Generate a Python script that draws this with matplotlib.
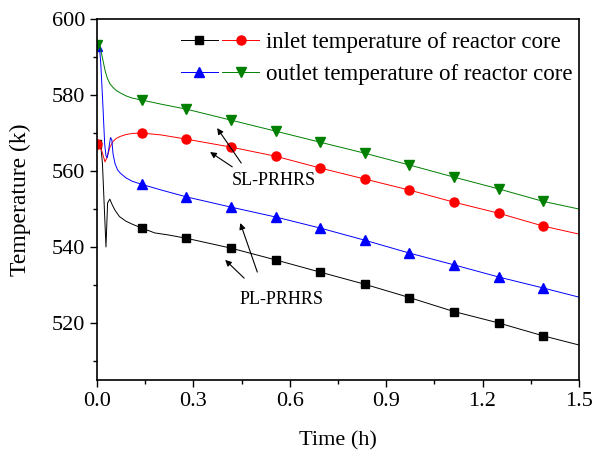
import matplotlib
matplotlib.use('Agg')
import matplotlib.pyplot as plt
from matplotlib.legend_handler import HandlerTuple
from matplotlib.ticker import MultipleLocator

plt.rcParams['font.family'] = ['Liberation Serif', 'DejaVu Serif']

# marker positions (h)
mark_t = [0, 0.139, 0.278, 0.417, 0.556, 0.694, 0.833, 0.972, 1.111, 1.25, 1.389]
tail = [0.417, 0.556, 0.694, 0.833, 0.972, 1.111, 1.25, 1.389, 1.5]

# PL-PRHRS inlet (black)
t_pl_in = [0, 0.012, 0.017, 0.022, 0.028, 0.033, 0.04, 0.048, 0.056, 0.07, 0.09, 0.11,
           0.139, 0.18, 0.22, 0.278] + tail
T_pl_in = [567, 566.5, 562, 552, 540, 551.6, 552.6, 551, 549.7, 548, 546.8, 546,
           545, 543.7, 543.2, 542.3, 539.7, 536.6, 533.4, 530.2, 526.7, 523, 520, 516.6, 514.2]

# SL-PRHRS inlet (red)
t_sl_in = [0, 0.008, 0.016, 0.025, 0.032, 0.04, 0.05, 0.06, 0.072, 0.09, 0.11,
           0.139, 0.2, 0.278] + tail
T_sl_in = [567.2, 567, 565, 562.4, 563.8, 566.2, 567.8, 568.6, 569.1, 569.6, 569.9,
           570, 569.5, 568.4, 566.3, 563.9, 560.8, 557.9, 555, 551.8, 548.9, 545.5, 543.4]

# PL-PRHRS outlet (blue)
t_pl_out = [0, 0.008, 0.012, 0.018, 0.024, 0.028, 0.032, 0.037, 0.042, 0.046, 0.05, 0.056,
            0.064, 0.072, 0.09, 0.11, 0.139, 0.2, 0.278] + tail
T_pl_out = [593, 592.5, 588, 578, 567, 564, 563.5, 566, 568.8, 568.3, 564.5, 562,
            560.3, 559.5, 558.2, 557.3, 556.5, 555, 553.2, 550.5, 547.9, 545, 541.8,
            538.4, 535.3, 532.1, 529.2, 526.8]

# SL-PRHRS outlet (green)
t_sl_out = [0, 0.01, 0.014, 0.019, 0.025, 0.032, 0.04, 0.05, 0.06, 0.072, 0.09, 0.11,
            0.139, 0.2, 0.278] + tail
T_sl_out = [593.2, 592.8, 591, 589, 586.5, 584.5, 583, 582, 581.2, 580.6, 579.8, 579.2,
            578.7, 577.6, 576.3, 573.4, 570.5, 567.6, 564.7, 561.6, 558.4, 555.3, 552.0, 550.0]

fig = plt.figure(figsize=(5.95, 4.55), dpi=100)
ax = fig.add_axes([0.163, 0.165, 0.81, 0.793])


def curve(t, T, color, marker, ms):
    idx = [t.index(m) for m in mark_t]
    line, = ax.plot(t, T, color=color, lw=0.7, marker=marker, ms=ms,
                    markevery=idx, mfc=color, mec=color)
    return line


l1 = curve(t_pl_in, T_pl_in, 'black', 's', 5.5)
l2 = curve(t_sl_in, T_sl_in, 'red', 'o', 6.5)
l3 = curve(t_pl_out, T_pl_out, 'blue', '^', 6.5)
l4 = curve(t_sl_out, T_sl_out, 'green', 'v', 6.5)

ax.set_xlim(0, 1.5)
ax.set_ylim(505, 600)
ax.xaxis.set_major_locator(MultipleLocator(0.3))
ax.xaxis.set_minor_locator(MultipleLocator(0.15))
ax.yaxis.set_major_locator(MultipleLocator(20))
ax.yaxis.set_minor_locator(MultipleLocator(10))
ax.xaxis.set_major_formatter(plt.FuncFormatter(lambda v, p: '%.1f' % v))
ax.tick_params(which='major', direction='out', length=5, width=1, labelsize=16)
ax.tick_params(which='minor', direction='out', length=3, width=1)
for s in ax.spines.values():
    s.set_linewidth(1.2)

ax.set_xlabel('Time (h)', fontsize=16, labelpad=15)
ax.set_ylabel('Temperature (k)', fontsize=17, labelpad=15)

leg = ax.legend([(l1, l2), (l3, l4)],
                ['inlet temperature of reactor core', 'outlet temperature of reactor core'],
                handler_map={tuple: HandlerTuple(ndivide=None, pad=0.2)},
                loc='upper right', bbox_to_anchor=(1.01, 0.995), frameon=False,
                fontsize=16.5, handlelength=3.4, handletextpad=0.3, labelspacing=0.45,
                borderaxespad=0.1)

arrow = dict(arrowstyle='-|>', color='k', lw=0.8, mutation_scale=9, shrinkA=0, shrinkB=0)
ax.annotate('', xy=(0.374, 571.3), xytext=(0.449, 562.1), arrowprops=arrow)
ax.annotate('', xy=(0.352, 565.0), xytext=(0.421, 561.1), arrowprops=arrow)
ax.annotate('', xy=(0.446, 546.3), xytext=(0.499, 533.4), arrowprops=arrow)
ax.annotate('', xy=(0.399, 536.6), xytext=(0.458, 531.8), arrowprops=arrow)
ax.text(0.549, 557.4, 'SL-PRHRS', ha='center', va='center', fontsize=13)
ax.text(0.574, 526.1, 'PL-PRHRS', ha='center', va='center', fontsize=13)

fig.savefig('out.png', dpi=100)
